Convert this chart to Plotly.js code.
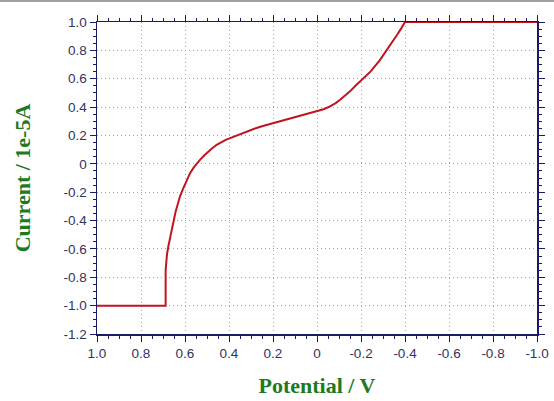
<!DOCTYPE html>
<html>
<head>
<meta charset="utf-8">
<script src="https://cdn.plot.ly/plotly-3.0.1.min.js"></script>
<style>
html,body{margin:0;padding:0;background:#fff;}
#chart{position:absolute;left:0;top:0;width:554px;height:401px;}
#topbar{position:absolute;left:0;top:0;width:554px;height:2px;background:#a0a0a0;}
</style>
</head>
<body>
<div id="chart"></div>
<div id="topbar"></div>
<script>
// Potential (V) and current (1e-5 A)
const potential = [1.0, 0.688, 0.688, 0.686, 0.682, 0.676, 0.670, 0.662, 0.653, 0.643, 0.633, 0.623, 0.610, 0.595, 0.577, 0.560, 0.545, 0.532, 0.512, 0.495, 0.475, 0.456, 0.435, 0.415, 0.395, 0.370, 0.350, 0.325, 0.305, 0.275, 0.250, 0.225, 0.199, 0.150, 0.092, 0.040, 0.001, -0.030, -0.059, -0.085, -0.105, -0.128, -0.150, -0.175, -0.203, -0.244, -0.285, -0.320, -0.345, -0.365, -0.383, -0.400, -1.0];
const current = [-1.0, -1.0, -0.75, -0.70, -0.64, -0.584, -0.535, -0.47, -0.396, -0.34, -0.285, -0.231, -0.18, -0.13, -0.066, -0.025, 0.005, 0.028, 0.06, 0.085, 0.112, 0.134, 0.155, 0.169, 0.181, 0.197, 0.210, 0.226, 0.238, 0.253, 0.265, 0.276, 0.287, 0.308, 0.334, 0.352, 0.370, 0.385, 0.405, 0.428, 0.452, 0.480, 0.511, 0.550, 0.594, 0.652, 0.730, 0.806, 0.860, 0.912, 0.955, 1.0, 1.0];
const xTickVals = [1.0, 0.8, 0.6, 0.4, 0.2, 0, -0.2, -0.4, -0.6, -0.8, -1.0];
const xTickText = ["1.0", "0.8", "0.6", "0.4", "0.2", "0", "-0.2", "-0.4", "-0.6", "-0.8", "-1.0"];
const yTickVals = [1.0, 0.8, 0.6, 0.4, 0.2, 0, -0.2, -0.4, -0.6, -0.8, -1.0, -1.2];
const yTickText = ["1.0", "0.8", "0.6", "0.4", "0.2", "0", "-0.2", "-0.4", "-0.6", "-0.8", "-1.0", "-1.2"];
const xTitle = "Potential / V";
const yTitle = "Current / 1e-5A";

const axisCol = "#1a1a66";
const tickFont = {family: "Liberation Sans, Arial, sans-serif", size: 13.5, color: "#33335c"};
const titleFont = {family: "Liberation Serif, Times New Roman, serif", size: 22, color: "#1e7a1e", weight: "bold"};

const trace = {
  x: potential, y: current, type: "scatter", mode: "lines",
  line: {color: "#c0141e", width: 2}, hoverinfo: "none"
};

function axis(range, vals, text, title, standoff) {
  return {
    range: range, autorange: false,
    tickmode: "array", tickvals: vals, ticktext: text,
    ticks: "outside", ticklen: 6, tickwidth: 1, tickcolor: axisCol,
    showline: true, linecolor: axisCol, linewidth: 1.5, mirror: "ticks",
    showgrid: true, gridcolor: "#a4a4a4", griddash: "1px,3px", gridwidth: 1,
    zeroline: false,
    minor: {dtick: 0.05, ticks: "outside", ticklen: 3, tickcolor: axisCol, showgrid: false},
    tickfont: tickFont,
    title: {text: title, font: titleFont, standoff: standoff}
  };
}

const layout = {
  width: 554, height: 401,
  margin: {l: 97, r: 17, t: 22, b: 67},
  paper_bgcolor: "#ffffff", plot_bgcolor: "#ffffff",
  showlegend: false,
  xaxis: axis([1.0, -1.0], xTickVals, xTickText, xTitle, 18),
  yaxis: axis([-1.2, 1.0], yTickVals, yTickText, yTitle, 27)
};

Plotly.newPlot("chart", [trace], layout, {staticPlot: true, displayModeBar: false});
</script>
</body>
</html>
